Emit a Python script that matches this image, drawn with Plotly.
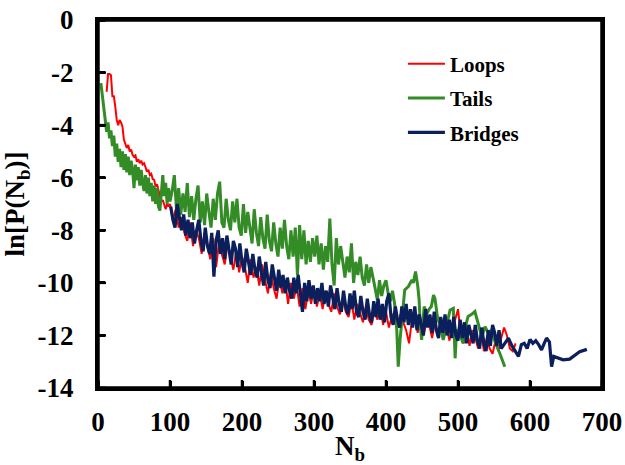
import plotly.graph_objects as go

# ---------------- data ----------------
loops_n = list(range(12, 100, 2)) + list(range(100, 581, 4))
loops_v = [
    -2.73, -2.05, -2.05, -2.1, -2.9, -2.9, -3.3, -3.8, -4.0, -3.8,
    -3.9, -4.06, -4.56, -4.7, -4.87, -4.75, -5.0, -4.93, -5.13, -5.2,
    -5.15, -5.39, -5.3, -5.45, -5.35, -5.5, -5.45, -5.6, -5.77, -5.7,
    -5.9, -5.85, -6.05, -6.08, -6.34, -6.25, -6.5, -6.72, -6.91, -6.85,
    -7.05, -7.2, -7.0, -7.1,
    # 100 .. 580 step 4
    -7.0, -7.6, -7.2, -7.9, -7.5, -8.1, -8.4, -7.7, -8.6, -8.0,
    -8.3, -8.9, -8.1, -8.6, -9.1, -8.3, -9.4, -8.5, -8.9, -9.3,
    -8.5, -9.0, -9.5, -8.8, -9.6, -9.0, -9.4, -10.0, -9.1, -9.8,
    -9.4, -10.1, -9.3, -9.9, -10.4, -9.6, -10.2, -10.6, -9.8, -10.4,
    -9.9, -10.8, -10.0, -10.6, -10.1, -10.9, -10.2, -11.0, -10.3, -10.8,
    -10.2, -10.9, -10.4, -11.0, -10.3, -10.8, -11.1, -10.4, -10.9, -11.2,
    -10.6, -11.1, -11.3, -10.7, -11.4, -10.8, -11.2, -11.5, -10.9, -11.4,
    -11.6, -11.0, -11.4, -10.9, -11.6, -11.1, -11.7, -11.3, -11.1, -11.7,
    -11.2, -11.5, -11.8, -12.3, -11.4, -11.3, -11.9, -11.4, -12.0, -11.5,
    -11.6, -12.1, -11.5, -12.05, -11.7, -12.1, -11.6, -12.2, -11.7, -11.4,
    -11.0, -12.0, -12.3, -11.7, -12.4, -11.8, -12.1, -12.5, -11.9, -12.6,
    -12.1, -12.5, -12.7, -12.2, -12.6, -12.1, -11.7, -12.0, -12.5, -12.6,
    -12.3,
]

tails_n = (list(range(4, 101, 2)) + list(range(103, 416, 3)) +
           [417, 419.5, 422, 426, 431, 436, 438, 441, 444, 446,
            447.5, 449.5, 453, 457, 460, 463, 466, 468, 472, 475,
            479.5, 484, 489, 493.5, 496, 498, 502, 507, 511, 514,
            519, 523.5, 528, 533, 537.5, 542, 546.8, 551, 558, 565])
tails_v = [
    -2.4, -2.9, -3.5, -3.75, -4.25, -3.9, -4.5, -4.2, -4.8, -4.4,
    -5.2, -4.7, -5.4, -4.9, -5.6, -5.0, -5.7, -5.1, -5.8, -5.2,
    -5.9, -5.35, -5.7, -6.4, -5.5, -6.1, -5.6, -6.3, -5.7, -6.2,
    -6.5, -5.9, -6.6, -6.0, -6.7, -6.2, -6.9, -6.3, -7.0, -6.4,
    -7.1, -7.25, -6.5, -5.9, -6.7, -6.2, -7.0, -6.4, -6.9,
    # 103 .. 415 step 3
    -6.5, -5.9, -7.2, -6.4, -7.4, -6.6, -7.3, -6.2, -7.5, -6.7,
    -7.6, -6.8, -6.3, -7.7, -6.9, -7.8, -6.6, -7.3, -7.9, -6.8,
    -7.6, -6.6, -6.15, -7.7, -7.9, -6.8, -7.6, -8.0, -6.9, -7.7,
    -6.8, -7.9, -8.2, -7.0, -8.1, -7.3, -8.0, -8.5, -7.2, -8.1,
    -8.6, -7.5, -8.3, -8.7, -7.4, -8.4, -8.8, -7.7, -8.5, -9.0,
    -7.9, -8.7, -7.6, -8.6, -9.1, -8.0, -9.0, -7.9, -9.7, -7.8,
    -9.1, -8.0, -9.3, -8.4, -9.2, -8.3, -9.0, -8.2, -9.3, -8.5,
    -9.5, -8.6, -9.2, -7.55, -9.3, -10.1, -8.3, -9.3, -8.6, -9.2,
    -9.8, -9.0, -9.6, -8.5, -10.0, -9.2, -9.7, -9.0, -9.8, -10.1,
    -9.3, -10.0, -9.4, -9.8, -10.3, -10.65, -9.9, -10.5, -10.1, -9.9,
    -10.4, -10.7, -10.3, -10.8, -11.8,
    # sparse tail
    -13.19, -12.17, -11.4, -10.27, -10.14, -9.89, -10.0, -9.57, -10.1, -10.65,
    -11.54, -12.17, -10.9, -11.16, -11.0, -10.9, -10.46, -10.6, -11.41, -11.54,
    -12.17, -11.6, -11.03, -10.97, -12.87, -11.79, -11.9, -12.3, -11.6, -11.28,
    -11.2, -11.09, -11.5, -12.05, -11.67, -11.9, -11.79, -12.2, -12.68, -13.19,
]

bridges_n = (list(range(101, 561, 3)) +
             [565, 570, 575, 580, 584, 588, 592, 596, 600, 604,
              608, 612, 616, 619, 623, 627, 630, 633, 638, 646,
              655, 669, 679])
bridges_v = [
    -7.1, -7.6, -7.9, -7.0, -7.5, -8.0, -7.4, -8.2, -7.6, -8.3,
    -7.7, -8.5, -8.0, -7.6, -8.4, -8.8, -7.9, -8.6, -8.9, -8.1,
    -9.76, -8.4, -8.0, -8.9, -8.3, -9.1, -8.2, -8.8, -9.3, -8.4,
    -8.7, -9.4, -8.5, -9.2, -9.6, -8.7, -9.3, -9.7, -8.9, -9.5,
    -9.8, -9.0, -9.6, -10.1, -9.2, -9.9, -10.2, -9.3, -9.8, -10.3,
    -9.5, -10.2, -9.7, -10.4, -9.8, -10.3, -10.6, -9.8, -10.4, -9.7,
    -10.4, -11.1, -10.0, -10.7, -9.9, -10.6, -10.1, -10.8, -10.2, -10.7,
    -10.0, -10.8, -10.3, -10.9, -10.1, -10.6, -11.0, -10.2, -10.8, -11.1,
    -10.3, -10.9, -11.2, -10.4, -11.0, -10.3, -11.1, -11.3, -10.5, -11.1,
    -11.4, -10.6, -11.2, -11.5, -10.7, -11.3, -10.6, -11.4, -10.8, -11.5,
    -10.7, -10.4, -11.3, -11.6, -10.9, -11.4, -11.7, -10.9, -11.5, -10.8,
    -11.6, -11.0, -11.7, -10.9, -11.8, -11.2, -11.6, -12.0, -11.0, -11.7,
    -11.2, -11.9, -11.1, -11.8, -12.1, -11.3, -11.9, -11.2, -12.0, -11.4,
    -12.1, -11.3, -12.0, -12.2, -11.4, -12.1, -11.5, -12.3, -11.6, -12.0,
    -12.3, -11.6, -12.2, -12.5, -11.7, -12.3, -12.6, -11.8, -12.4, -11.6,
    -11.9, -12.4, -11.8, -12.5,
    # sparse tail
    -12.3, -12.1, -12.4, -12.6, -12.8, -12.35, -12.3, -12.5, -12.15, -12.3,
    -12.2, -12.35, -12.55, -12.35, -12.1, -12.25, -13.19, -12.8, -12.85, -12.93,
    -12.9, -12.62, -12.53,
]

x_ticks = [0, 100, 200, 300, 400, 500, 600, 700]
y_ticks = [0, -2, -4, -6, -8, -10, -12, -14]

# ---------------- figure ----------------
FONT = "Liberation Serif"
fig = go.Figure()
fig.add_trace(go.Scatter(x=loops_n, y=loops_v, mode="lines", name="Loops",
                         legendgroup="a", line=dict(color="#FF0000", width=2)))
fig.add_trace(go.Scatter(x=tails_n, y=tails_v, mode="lines", name="Tails",
                         legendgroup="b", line=dict(color="#338C26", width=3)))
fig.add_trace(go.Scatter(x=bridges_n, y=bridges_v, mode="lines", name="Bridges",
                         legendgroup="c", line=dict(color="#0A1F5C", width=3.2)))

axis_common = dict(showline=True, linecolor="#000000", linewidth=3, mirror=True,
                   ticks="outside", tickcolor="rgba(0,0,0,0)", tickwidth=1,
                   showgrid=False, zeroline=False, automargin=False,
                   tickfont=dict(family=FONT, size=27, color="black", weight="bold"))

fig.update_xaxes(range=[0, 700], tickvals=x_ticks, ticktext=[str(v) for v in x_ticks],
                 ticklen=8,
                 minor=dict(tickvals=x_ticks, ticks="inside", ticklen=7, tickwidth=2.5,
                            tickcolor="#000000", showgrid=False),
                 title=dict(text="N<sub>b</sub>",
                            font=dict(family=FONT, size=27, color="black", weight="bold")),
                 **axis_common)
fig.update_yaxes(range=[-14, 0], tickvals=y_ticks, ticktext=[str(v) for v in y_ticks],
                 ticklen=16,
                 minor=dict(tickvals=y_ticks, ticks="inside", ticklen=7, tickwidth=2.5,
                            tickcolor="#000000", showgrid=False),
                 title=dict(text="ln[P(N<sub>b</sub>)]",
                            font=dict(family=FONT, size=27, color="black", weight="bold")),
                 **axis_common)

# plot frame
fig.add_shape(type="rect", xref="paper", yref="paper", x0=0, y0=0, x1=1, y1=1,
              line=dict(color="#000000", width=3.5), fillcolor="rgba(0,0,0,0)",
              layer="above")
# inside tick marks, placed through the axes' own scales
for t in x_ticks:
    fig.add_shape(type="line", xref="x", yref="paper", x0=t, x1=t,
                  ysizemode="pixel", yanchor=0, y0=0, y1=8,
                  line=dict(color="#000000", width=2.5), layer="above")
for t in y_ticks:
    fig.add_shape(type="line", yref="y", xref="paper", y0=t, y1=t,
                  xsizemode="pixel", xanchor=0, x0=0, x1=8,
                  line=dict(color="#000000", width=2.5), layer="above")

fig.update_layout(
    width=625, height=465,
    margin=dict(l=98, r=23, t=20, b=77),
    paper_bgcolor="white", plot_bgcolor="white",
    showlegend=True,
    legend=dict(x=0.605, y=0.936, xanchor="left", yanchor="top",
                bgcolor="rgba(0,0,0,0)", tracegroupgap=4, itemwidth=37,
                font=dict(family=FONT, size=21, color="black", weight="bold")),
)

fig.write_html("out.html")
